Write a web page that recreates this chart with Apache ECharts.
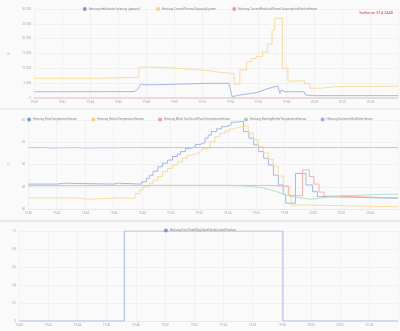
<!DOCTYPE html>
<html><head><meta charset="utf-8">
<script src="https://cdn.jsdelivr.net/npm/echarts@6/dist/echarts.min.js"></script>
<style>html,body{margin:0;padding:0;background:#fafafa}#c{width:400px;height:331px}</style>
</head><body><div id="c"></div>
<script>
// ---- time range ----
const START = '19:40:00';
const END = '20:05:58';

// ---- panel 1 : power (W) ----
const powerTotal = [
  ['19:40:00',2100],['19:47:09',2150],['19:47:24',3000],['19:47:37',4700],['19:47:58',4450],
  ['19:48:59',4500],['19:52:25',4950],['19:53:54',4950],['19:54:08',450],['19:54:41',1000],
  ['19:55:50',1800],['19:56:59',3600],['19:57:24',4000],['19:57:32',1600],['19:57:39',2700],
  ['19:57:54',2100],['19:59:16',2100],['19:59:23',1000],['20:00:00',800],['20:05:58',800]
];
const thermalCapacity = [
  ['19:40:00',6650],['19:44:36',6950],['19:47:29',10400],['19:48:30',10200],['19:49:30',9900],
  ['19:50:30',9600],['19:51:30',9200],['19:52:30',8800],['19:53:00',8500],['19:53:40',8200],
  ['19:54:16',4700],['19:54:41',9500],['19:55:10',12200],['19:55:30',13300],['19:55:50',14000],
  ['19:56:18',15500],['19:56:39',18200],['19:56:59',22900],['19:57:10',26900],['19:57:43',10000],
  ['19:58:07',5700],['19:58:56',6100],['19:59:16',4900],['19:59:41',3300],['20:00:25',3800],
  ['20:01:30',4000],['20:05:58',4000]
];
const electricHeater = [['19:40:00',0],['20:05:58',0]];

// ---- panel 2 : temperatures (°C) ----
const flowTemp = [
  ['19:40:00',45.6],['19:42:00',45.8],['19:42:30',45.6],['19:46:00',45.8],['19:46:20',45.6],
  ['19:47:58',46.1],['19:48:18',46.9],['19:48:32',47.6],['19:48:46',48.5],['19:49:06',49.5],
  ['19:49:26',50.3],['19:49:47',51.0],['19:50:08',51.8],['19:50:28',52.3],['19:50:42',52.9],
  ['19:51:02',53.6],['19:51:23',54.0],['19:51:44',54.5],['19:52:04',54.9],['19:52:25',55.9],
  ['19:52:38',56.6],['19:52:52',57.4],['19:53:13',58.0],['19:53:34',58.5],['19:53:54',58.9],
  ['19:54:15',59.5],['19:54:35',59.7],['19:55:07',57.4],['19:55:30',55.9],['19:55:50',54.4],
  ['19:56:11',52.9],['19:56:32',51.4],['19:56:52',49.9],['19:57:13',47.6],['19:57:34',45.4],
  ['19:57:54',43.3],['19:58:05',41.3],['19:58:46',48.0],['19:59:30',45.4],['19:59:58',43.9],
  ['20:00:18',42.8],['20:00:38',42.4],['20:05:58',42.4]
];
const returnTemp = [
  ['19:40:00',42.5],['19:43:16',42.2],['19:44:11',42.5],['19:46:14',42.4],['19:47:30',43.5],
  ['19:47:50',44.3],['19:48:04',45.0],['19:48:32',45.8],['19:48:46',46.5],['19:49:06',47.3],
  ['19:49:26',48.4],['19:49:47',49.1],['19:50:08',49.9],['19:50:28',50.6],['19:50:49',51.4],
  ['19:51:10',52.1],['19:51:30',52.5],['19:51:51',52.9],['19:52:11',53.5],['19:52:25',53.8],
  ['19:52:46',55.1],['19:53:06',56.2],['19:53:26',57.0],['19:53:47',57.5],['19:54:08',58.0],
  ['19:54:28',58.3],['19:54:42',58.7],['19:55:27',57.0],['19:55:48',55.6],['19:56:09',54.1],
  ['19:56:30',52.6],['19:56:51',51.1],['19:57:12',49.6],['19:57:33',47.4],['19:57:54',45.2],
  ['19:58:15',43.2],['19:58:27',40.9],['19:59:18',40.5],['20:05:58',40.4]
];
const mixerFlowTemp = [
  ['19:40:00',45.3],['19:57:00',45.1],['19:58:18',43.0],['19:59:16',48.8],['19:59:44',47.3],
  ['20:00:04',45.6],['20:00:25',43.8],['20:00:46',42.9],['20:01:30',42.5],['20:05:58',42.5]
];
const bufferTemp = [
  ['19:40:00',45.2],['19:51:00',45.3],['19:54:00',45.3],['19:55:07',45.2],['19:56:28',44.8],
  ['19:57:21',44.0],['19:57:58',43.3],['19:58:31',42.8],['19:59:16',42.4],['19:59:58',42.2],
  ['20:00:38',42.5],['20:02:00',43.0],['20:03:21',43.1],['20:04:42',43.3],['20:05:58',43.3]
];
const hotWaterTemp = [
  ['19:40:00',53.8],['19:41:12',53.7],['19:41:40',53.8],['19:43:30',53.7],['19:43:55',53.8],
  ['19:48:00',53.8],['20:05:58',53.8]
];

// ---- panel 3 : valve position ----
const valvePosition = [['19:40:00',0],['19:47:13',1],['19:58:05',0],['20:05:58',0]];

// ---- labels ----
const names1 = ['Heizung elektrische Leistung (gesamt)','Heizung CurrentThermalCapacitySystem','Heizung CurrentElectricalPowerConsumptionElectricHeater'];
const names2 = ['Heizung FlowTemperatureSensor','Heizung ReturnTemperatureSensor','Heizung MixerTwoCircuitFlowTemperatureSensor','Heizung HeatingBufferTemperatureSensor','Heizung DomesticHotWaterSensor'];
const names3 = ['Heizung FourThreeWayValveValveCurrentPosition'];
const softwareLabel = 'Software 514.2440';

function toMin(s){const p=s.split(':').map(Number);return p[0]*60+p[1]+p[2]/60-(19*60+40);}
function pts(a){return a.map(d=>[toMin(d[0]),d[1]]);}
function fmtTime(m){const t=19*60+40+Math.round(m);const h=Math.floor(t/60),mm=t%60;return h+':'+String(mm).padStart(2,'0');}
function deNum(v){return String(v).replace(/\B(?=(\d{3})+(?!\d))/g,'.');}
function deDec(v){return v===0?'0':v.toFixed(1).replace('.',',');}

const LINE = {blue:'#9bb0ea',yellow:'#f7d991',red:'#f5aca4',green:'#aadfc8',purple:'#d0b2f0'};
const ICON = {blue:'#7d96de',yellow:'#f5d282',red:'#f29d94',green:'#98d8bb',purple:'#bf9be9'};
const axisTxt = {color:'#aaa',fontSize:3,fontFamily:'Roboto'};
const gridLine = {lineStyle:{color:'#ebebeb',width:0.6}};

function xAxis(i){return {type:'value',gridIndex:i,min:toMin(START),max:toMin(END),interval:2,
  axisLabel:Object.assign({formatter:fmtTime,margin:3,showMaxLabel:false},axisTxt),
  axisLine:{show:true,lineStyle:{color:'#e2e2e2',width:0.6}},axisTick:{show:false},splitLine:gridLine};}
function ser(name,data,xi,c,step){return {name,type:'line',xAxisIndex:xi,yAxisIndex:xi,data:pts(data),
  step:step?'end':false,showSymbol:false,symbol:'none',lineStyle:{width:0.9,color:LINE[c]},itemStyle:{color:ICON[c]},animation:false};}
function legend(names,top,gap){return {data:names,top:top,left:'center',icon:'circle',itemWidth:4,itemHeight:4,itemGap:gap,
  textStyle:{fontSize:3,color:'#8c8c8c',fontFamily:'Roboto',padding:[0,0,0,-3]}};}

const chart = echarts.init(document.getElementById('c'),null,{renderer:'canvas'});
chart.setOption({
  backgroundColor:'#fafafa',
  animation:false,
  legend:[legend(names1,2,16),legend(names2,112.5,14),legend(names3,223.5,14)],
  grid:[
    {left:19,right:2,top:9,height:89},
    {left:19,right:2,top:120,height:89},
    {left:19,right:2,top:231,height:90}
  ],
  xAxis:[xAxis(0),xAxis(1),xAxis(2)],
  yAxis:[
    {type:'value',gridIndex:0,min:0,max:30000,interval:5000,name:'W',nameLocation:'middle',nameGap:15,nameTextStyle:axisTxt,
      axisLabel:Object.assign({formatter:deNum,margin:3},axisTxt),axisLine:{show:false},axisTick:{show:false},splitLine:gridLine},
    {type:'value',gridIndex:1,min:40,max:60,interval:5,name:'°C',nameLocation:'middle',nameGap:9,nameTextStyle:axisTxt,
      axisLabel:Object.assign({margin:3},axisTxt),axisLine:{show:false},axisTick:{show:false},splitLine:gridLine},
    {type:'value',gridIndex:2,min:0,max:1,interval:0.2,
      axisLabel:Object.assign({formatter:deDec,margin:3},axisTxt),axisLine:{show:false},axisTick:{show:false},splitLine:gridLine}
  ],
  series:[
    ser(names1[0],powerTotal,0,'blue',false),
    ser(names1[1],thermalCapacity,0,'yellow',true),
    ser(names1[2],electricHeater,0,'red',false),
    ser(names2[0],flowTemp,1,'blue',true),
    ser(names2[1],returnTemp,1,'yellow',true),
    ser(names2[2],mixerFlowTemp,1,'red',true),
    ser(names2[3],bufferTemp,1,'green',false),
    ser(names2[4],hotWaterTemp,1,'purple',true),
    ser(names3[0],valvePosition,2,'blue',true)
  ],
  graphic:[
    {type:'rect',shape:{x:0,y:108.5,width:400,height:1},style:{fill:'#e4e4e4'},silent:true},
    {type:'rect',shape:{x:0,y:220,width:400,height:2},style:{fill:'#e8e8e8'},silent:true},
    {type:'text',style:{x:393,y:13,text:softwareLabel,textAlign:'right',textVerticalAlign:'middle',fontSize:4,fill:'#e8333a',fontFamily:'Roboto'},silent:true}
  ]
});
</script></body></html>
